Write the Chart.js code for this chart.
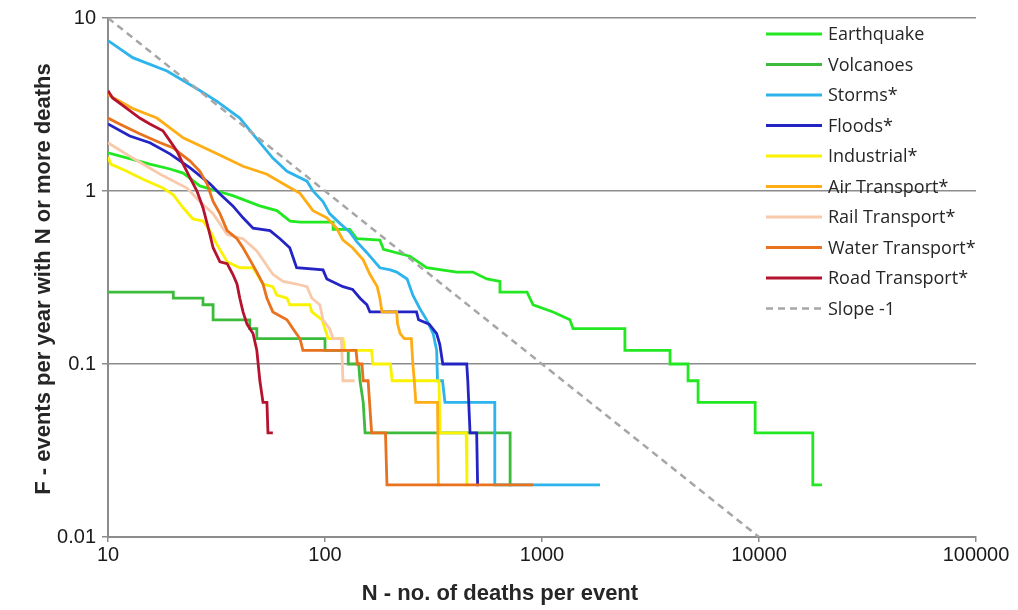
<!DOCTYPE html>
<html>
<head>
<meta charset="utf-8">
<script src="https://cdn.jsdelivr.net/npm/chart.js@4.4.0/dist/chart.umd.min.js"></script>
<style>
html,body{margin:0;padding:0;background:#fff;}
#wrap{width:1018px;height:610px;}
</style>
</head>
<body>
<div id="wrap"><canvas id="chart" width="1018" height="610"></canvas></div>
<script>
// F-N curves: N = deaths per event, F = events per year with N or more deaths
// a repeated N marks a vertical drop of the curve
const xTicks = [10, 100, 1000, 10000, 100000];
const yTicks = [0.01, 0.1, 1, 10];

const earthquakeN = [10, 15.6, 19.3, 22.2, 26.5, 31.8, 37.6, 50, 60, 69, 77, 109, 109, 130, 140, 179, 186, 246, 294, 405, 480, 557, 640, 640, 853, 910, 1125, 1345, 1390, 2410, 2410, 3890, 3890, 4710, 4710, 5240, 5240, 9600, 9600, 17700, 17700, 19500];
const earthquakeF = [1.66, 1.43, 1.34, 1.27, 1.07, 1.0, 0.94, 0.82, 0.77, 0.67, 0.66, 0.66, 0.6, 0.6, 0.53, 0.52, 0.46, 0.42, 0.36, 0.34, 0.34, 0.31, 0.3, 0.26, 0.26, 0.22, 0.2, 0.18, 0.16, 0.16, 0.12, 0.12, 0.1, 0.1, 0.08, 0.08, 0.06, 0.06, 0.04, 0.04, 0.02, 0.02];

const volcanoesN = [10, 20, 20, 27.4, 27.4, 30.5, 30.5, 45, 45, 48.5, 48.5, 100, 100, 128, 128, 143, 145, 150, 153, 713, 713, 725];
const volcanoesF = [0.26, 0.26, 0.24, 0.24, 0.22, 0.22, 0.18, 0.18, 0.16, 0.16, 0.14, 0.14, 0.12, 0.12, 0.1, 0.1, 0.08, 0.06, 0.04, 0.04, 0.02, 0.02];

const stormsN = [10, 13, 18.7, 25.7, 31.8, 40.5, 48.1, 57.5, 66.8, 82.6, 88, 97.9, 105, 117, 130, 140, 156, 179, 200, 214, 239, 254, 273, 294, 315, 327, 330, 348, 357, 606, 606, 1850];
const stormsF = [7.4, 5.9, 4.94, 3.9, 3.3, 2.64, 2.03, 1.55, 1.3, 1.14, 1.0, 0.87, 0.74, 0.65, 0.58, 0.51, 0.44, 0.36, 0.35, 0.34, 0.31, 0.25, 0.21, 0.18, 0.15, 0.12, 0.08, 0.08, 0.06, 0.06, 0.02, 0.02];

const floodsN = [10, 12.6, 15.6, 19.3, 23.9, 29.5, 32.8, 37.6, 41.9, 46.6, 55.8, 62, 68.8, 74, 97.9, 102, 121, 134, 145, 156, 161, 264, 270, 302, 327, 338, 349, 450, 455, 466, 500, 505, 510];
const floodsF = [2.44, 2.08, 1.9, 1.64, 1.36, 1.1, 0.96, 0.82, 0.7, 0.61, 0.59, 0.53, 0.47, 0.36, 0.35, 0.31, 0.28, 0.27, 0.24, 0.22, 0.2, 0.2, 0.18, 0.17, 0.15, 0.13, 0.1, 0.1, 0.08, 0.04, 0.04, 0.02, 0.02];

const industrialN = [10, 10.3, 12.2, 14.5, 17.9, 20, 22.2, 24.6, 27.4, 29.5, 31.8, 35.4, 40.5, 46.6, 51.8, 57.5, 59.9, 66.8, 68.8, 85, 87, 96.9, 100, 103.5, 121, 123, 164, 166, 200, 204, 335, 339, 447, 451, 458];
const industrialF = [1.58, 1.43, 1.3, 1.17, 1.04, 0.95, 0.8, 0.69, 0.67, 0.59, 0.49, 0.39, 0.36, 0.36, 0.29, 0.28, 0.25, 0.24, 0.22, 0.22, 0.2, 0.18, 0.16, 0.14, 0.14, 0.12, 0.12, 0.1, 0.1, 0.08, 0.08, 0.04, 0.04, 0.02, 0.02];

const airN = [10, 13, 16.8, 22.2, 31.8, 41.9, 54, 66.8, 76.7, 88, 102, 113, 121, 134, 150, 161, 174, 179, 183, 214, 216, 222, 232, 250, 254, 258, 262, 330, 333, 340];
const airF = [3.6, 3.0, 2.64, 2.03, 1.64, 1.39, 1.25, 1.07, 0.97, 0.77, 0.7, 0.61, 0.52, 0.47, 0.4, 0.33, 0.28, 0.24, 0.2, 0.2, 0.17, 0.15, 0.14, 0.14, 0.1, 0.08, 0.06, 0.06, 0.02, 0.02];

const railN = [10, 13, 17.4, 23.1, 26.5, 30.5, 35.4, 41.9, 48.5, 57.5, 64.1, 74, 82.6, 87, 94.7, 97.9, 105, 109, 119, 121, 137];
const railF = [1.9, 1.55, 1.25, 1.04, 0.87, 0.74, 0.56, 0.53, 0.45, 0.33, 0.3, 0.29, 0.28, 0.24, 0.22, 0.18, 0.16, 0.14, 0.14, 0.08, 0.08];

const waterN = [10, 11.3, 14, 17.4, 19.9, 23.9, 26.5, 28.6, 30.5, 32.8, 35.4, 39.3, 41.9, 45.1, 48.5, 51.8, 54, 57.5, 66.8, 71.2, 76.7, 79.1, 139, 141, 148, 150, 158, 164, 190, 193, 910];
const waterF = [2.64, 2.44, 2.14, 1.9, 1.78, 1.49, 1.3, 1.1, 0.87, 0.74, 0.59, 0.53, 0.47, 0.4, 0.34, 0.29, 0.24, 0.2, 0.18, 0.16, 0.14, 0.12, 0.12, 0.1, 0.1, 0.08, 0.08, 0.04, 0.04, 0.02, 0.02];

const roadN = [10, 10.5, 12.2, 14, 15.6, 17.9, 19.3, 20.8, 22.2, 23.9, 25.7, 27.4, 29.5, 30.5, 32.8, 35.4, 37.6, 39.3, 40.5, 41.9, 43.7, 46.6, 48.5, 50.1, 51.8, 54, 54.6, 57.5];
const roadF = [3.8, 3.45, 3.0, 2.64, 2.44, 2.23, 1.95, 1.7, 1.43, 1.19, 1.0, 0.8, 0.56, 0.47, 0.39, 0.38, 0.33, 0.29, 0.24, 0.2, 0.17, 0.15, 0.12, 0.08, 0.06, 0.06, 0.04, 0.04];

const slopeN = [10, 10000];
const slopeF = [10, 0.01];

const names = ['Earthquake', 'Volcanoes', 'Storms*', 'Floods*', 'Industrial*', 'Air Transport*', 'Rail Transport*', 'Water Transport*', 'Road Transport*', 'Slope -1'];
const colors = ['#22E822', '#3DBB3D', '#2DB4EC', '#2424C4', '#FAF200', '#FFAD14', '#F8C9AA', '#E8721E', '#B4122E', '#A6A6A6'];
const xs = [earthquakeN, volcanoesN, stormsN, floodsN, industrialN, airN, railN, waterN, roadN, slopeN];
const ys = [earthquakeF, volcanoesF, stormsF, floodsF, industrialF, airF, railF, waterF, roadF, slopeF];

const datasets = names.map((name, i) => {
    const isSlope = i === names.length - 1;
    return {
        label: name,
        data: xs[i].map((n, k) => ({x: n, y: ys[i][k]})),
        borderColor: colors[i],
        backgroundColor: colors[i],
        borderWidth: isSlope ? 2.5 : 2.8,
        borderDash: isSlope ? [7, 5] : [],
        pointRadius: 0,
        tension: 0,
        fill: false,
        order: names.length - 1 - i   // later series on top, like the original
    };
});

const axisColor = '#8C8C8C';
const tickFont = {family: "'Liberation Sans', Arial, sans-serif", size: 20};

// legend and axis titles drawn by hand so the plot area keeps its size
const extras = {
    id: 'extras',
    afterDraw(chart) {
        const ctx = chart.ctx;
        ctx.save();
        ctx.font = "18px 'Open Sans', sans-serif";
        ctx.textBaseline = 'middle';
        names.forEach((name, i) => {
            const ds = chart.data.datasets[i];
            const y = 34 + i * 30.5;
            ctx.beginPath();
            ctx.strokeStyle = ds.borderColor;
            ctx.lineWidth = ds.borderWidth;
            ctx.setLineDash(ds.borderDash);
            ctx.moveTo(766, y);
            ctx.lineTo(822, y);
            ctx.stroke();
            ctx.setLineDash([]);
            ctx.fillStyle = '#262626';
            ctx.textAlign = 'left';
            ctx.fillText(name, 828, y + 1);
        });

        ctx.fillStyle = '#262626';
        ctx.font = "bold 22px 'Liberation Sans', Arial, sans-serif";
        ctx.textAlign = 'center';
        ctx.fillText('N - no. of deaths per event', 500, 594);
        ctx.translate(44, 279);
        ctx.rotate(-Math.PI / 2);
        ctx.fillText('F - events per year with N or more deaths', 0, 0);
        ctx.restore();
    }
};

new Chart(document.getElementById('chart'), {
    type: 'line',
    data: {datasets: datasets},
    options: {
        responsive: false,
        animation: false,
        layout: {padding: {top: 17, right: 42, left: 0, bottom: 0}},
        plugins: {legend: {display: false}, tooltip: {enabled: false}},
        scales: {
            x: {
                type: 'logarithmic',
                min: 10,
                max: 100000,
                afterFit: s => { s.height = 73; },
                afterBuildTicks: s => { s.ticks = xTicks.map(v => ({value: v})); },
                ticks: {
                    color: '#1a1a1a',
                    font: tickFont,
                    padding: 1,
                    maxRotation: 0,
                    autoSkip: false,
                    callback: v => String(v)
                },
                grid: {drawOnChartArea: false, drawTicks: true, tickLength: 5, color: axisColor, lineWidth: 1.5},
                border: {color: axisColor, width: 2}
            },
            y: {
                type: 'logarithmic',
                min: 0.01,
                max: 10,
                afterFit: s => { s.width = 108; },
                afterBuildTicks: s => { s.ticks = yTicks.map(v => ({value: v})); },
                ticks: {
                    color: '#1a1a1a',
                    font: tickFont,
                    padding: 6,
                    autoSkip: false,
                    callback: v => String(v)
                },
                grid: {color: axisColor, lineWidth: 1.5, drawTicks: true, tickLength: 6},
                border: {color: axisColor, width: 2}
            }
        }
    },
    plugins: [extras]
});
</script>
</body>
</html>
